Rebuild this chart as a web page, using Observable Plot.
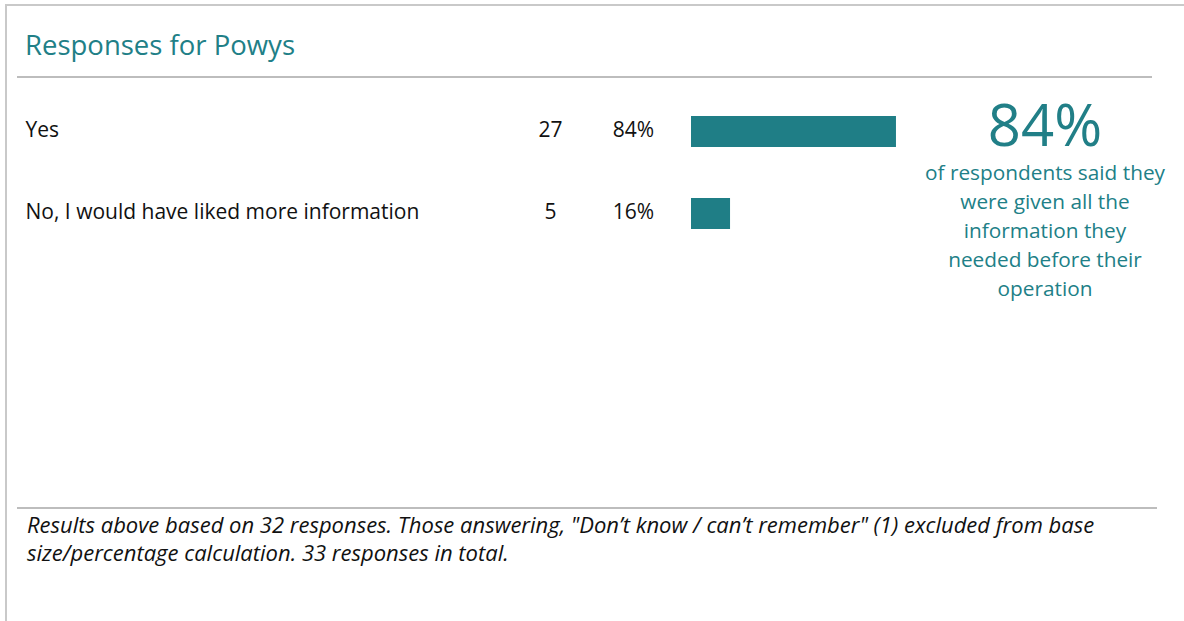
<!DOCTYPE html>
<html>
<head>
<meta charset="utf-8">
<script src="https://cdn.jsdelivr.net/npm/d3@7"></script>
<script src="https://cdn.jsdelivr.net/npm/@observablehq/plot@0.6"></script>
<style>
  html, body { margin: 0; padding: 0; background: #fff; }
  #page { position: relative; width: 1184px; height: 621px; overflow: hidden; font-family: "Open Sans", sans-serif; }
  #frame { position: absolute; left: 5px; top: 4px; width: 1300px; height: 700px; border-left: 2px solid #c9c9c9; border-top: 2px solid #c9c9c9; }
  #title { position: absolute; left: 25px; top: 27px; font-size: 27.5px; color: #217f87; white-space: nowrap; line-height: 36px; }
  .rule { position: absolute; left: 17px; height: 2px; background: #bdbdbd; }
  #chart { position: absolute; left: 0; top: 90px; }
  #stat { position: absolute; left: 905px; width: 280px; top: 92px; text-align: center; color: #217f87; }
  #statBig { font-size: 58px; line-height: 64px; }
  #statText { font-size: 20.8px; line-height: 29px; margin-top: 2px; }
  #note { position: absolute; left: 27px; top: 510px; font-size: 22px; font-style: italic; line-height: 28px; color: #111; white-space: nowrap; }
</style>
</head>
<body>
<div id="page">
  <div id="frame"></div>
  <div id="title"></div>
  <div class="rule" style="top:76px; width:1135px;"></div>
  <div id="chart"></div>
  <div id="stat"><div id="statBig"></div><div id="statText"></div></div>
  <div class="rule" style="top:507px; width:1140px;"></div>
  <div id="note"></div>
</div>
<script>
const title = "Responses for Powys";
const categories = ["Yes", "No, I would have liked more information"];
const counts = [27, 5];
const percents = [84, 16];
const statText = ["of respondents said they", "were given all the", "information they", "needed before their", "operation"];
const noteLines = [
  "Results above based on 32 responses. Those answering, \"Don\u2019t know / can\u2019t remember\" (1) excluded from base",
  "size/percentage calculation. 33 responses in total."
];

const teal = "#1f7e86";
document.getElementById("title").textContent = title;
document.getElementById("statBig").textContent = percents[0] + "%";
document.getElementById("statText").innerHTML = statText.join("<br>");
document.getElementById("note").innerHTML = noteLines.map(s => s.replace(/&/g,"&amp;").replace(/</g,"&lt;")).join("<br>");

const rows = categories.map((c, i) => ({label: c, count: counts[i], pct: percents[i]}));

const chart = Plot.plot({
  width: 1184,
  height: 170,
  margin: 0,
  style: {fontFamily: "Open Sans, sans-serif", fontSize: "21px", color: "#111", background: "transparent"},
  x: {domain: [0, 100], range: [691, 935], axis: null},
  y: {domain: categories, range: [0, 164], paddingInner: 0.622, paddingOuter: 0.311, axis: null},
  marks: [
    Plot.barX(rows, {x: "pct", y: "label", fill: teal}),
    Plot.text(rows, {y: "label", text: "label", frameAnchor: "left", dx: 25, dy: -1.5, textAnchor: "start", fill: "#111", fontSize: 21}),
    Plot.text(rows, {y: "label", text: d => String(d.count), frameAnchor: "left", dx: 550, dy: -1.5, textAnchor: "middle", fill: "#111", fontSize: 21}),
    Plot.text(rows, {y: "label", text: d => d.pct + "%", frameAnchor: "left", dx: 633, dy: -1.5, textAnchor: "middle", fill: "#111", fontSize: 21})
  ]
});
document.getElementById("chart").appendChild(chart);
</script>
</body>
</html>
